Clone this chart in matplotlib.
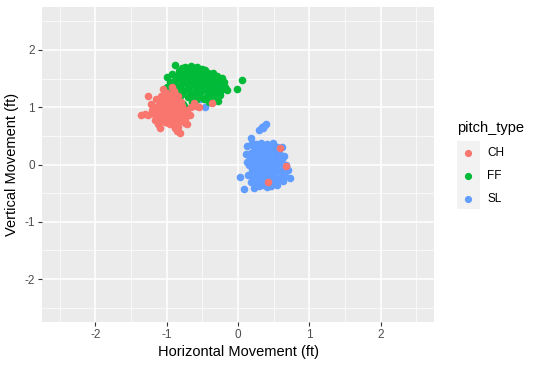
import matplotlib
matplotlib.use('Agg')
import matplotlib.pyplot as plt
from matplotlib.lines import Line2D
from matplotlib.patches import Rectangle

plt.rcParams['font.family'] = ['Liberation Sans', 'DejaVu Sans']
plt.rcParams['axes.unicode_minus'] = False

# ── data ─────────────────────────────────────────────────────────────────────
ff_pts = [
    (-0.88, 1.74), (-0.74, 1.71), (-0.62, 1.68), (-0.47, 1.65), (-0.35, 1.59), (-0.99, 1.52),
    (-0.93, 1.58), (-0.99, 1.36), (-0.18, 1.36), (-0.16, 1.30), (-0.23, 1.51), (-0.01, 1.32),
    (0.06, 1.47), (-0.74, 1.01), (-0.59, 1.13), (-0.40, 1.10), (-0.28, 1.11), (-0.25, 1.22),
    (-0.86, 1.19), (-0.35, 1.19), (-0.78, 1.69), (-0.70, 1.66), (-0.55, 1.62), (-0.50, 1.66),
    (-0.42, 1.60), (-0.30, 1.55), (-0.83, 1.63), (-0.66, 1.72), (-0.58, 1.70), (-0.85, 1.55),
    (-0.80, 1.48), (-0.75, 1.58), (-0.72, 1.42), (-0.68, 1.52), (-0.65, 1.38), (-0.62, 1.60),
    (-0.60, 1.45), (-0.57, 1.33), (-0.55, 1.55), (-0.52, 1.42), (-0.50, 1.30), (-0.48, 1.50),
    (-0.45, 1.38), (-0.42, 1.46), (-0.40, 1.28), (-0.38, 1.52), (-0.35, 1.40), (-0.32, 1.32),
    (-0.30, 1.45), (-0.28, 1.25), (-0.26, 1.42), (-0.22, 1.35), (-0.20, 1.44), (-0.90, 1.45),
    (-0.88, 1.38), (-0.82, 1.32), (-0.78, 1.40), (-0.76, 1.28), (-0.70, 1.34), (-0.66, 1.25),
    (-0.63, 1.48), (-0.58, 1.52), (-0.53, 1.24), (-0.47, 1.35), (-0.43, 1.20), (-0.37, 1.34),
    (-0.33, 1.25), (-0.62, 1.20), (-0.70, 1.18), (-0.80, 1.22), (-0.92, 1.28), (-0.95, 1.44),
    (-0.73, 1.50), (-0.67, 1.60), (-0.56, 1.40), (-0.49, 1.58), (-0.44, 1.30), (-0.38, 1.42),
    (-0.27, 1.50), (-0.24, 1.30), (-0.55, 1.18), (-0.48, 1.15), (-0.65, 1.10), (-0.83, 1.12),
    (-0.77, 1.05), (-0.50, 1.48), (-0.60, 1.35), (-0.70, 1.45), (-0.80, 1.58), (-0.40, 1.55),
    (-0.34, 1.48), (-0.46, 1.43), (-0.58, 1.28), (-0.86, 1.50), (-0.53, 1.60),
]

ch_pts = [
    (-1.26, 1.20), (-1.36, 0.87), (-1.26, 0.87), (-1.17, 0.78), (-1.10, 0.64), (-0.98, 0.72),
    (-0.88, 0.64), (-0.81, 0.55), (-0.86, 0.58), (-0.74, 0.72), (-0.71, 0.70), (-0.68, 0.87),
    (-0.66, 1.01), (-0.59, 1.03), (-0.36, 1.08), (-1.05, 1.32), (-0.93, 1.35), (-1.15, 1.15),
    (-1.20, 0.95), (-1.22, 1.05), (-1.12, 0.70), (-0.78, 0.80), (-0.72, 0.95), (-0.80, 1.10),
    (-0.84, 1.20), (-0.90, 1.28), (-1.00, 1.25), (-1.08, 1.20), (-0.62, 1.08), (-0.55, 1.00),
    (-1.15, 1.00), (-1.12, 0.90), (-1.10, 1.08), (-1.08, 0.82), (-1.05, 0.95), (-1.03, 1.12),
    (-1.00, 0.88), (-0.98, 1.02), (-0.97, 0.78), (-0.95, 1.15), (-0.93, 0.92), (-0.91, 1.05),
    (-0.90, 0.82), (-0.88, 0.98), (-0.86, 1.10), (-0.85, 0.88), (-0.83, 1.00), (-0.82, 0.76),
    (-0.80, 0.92), (-0.78, 1.02), (-1.02, 0.75), (-0.95, 0.70), (-0.92, 0.74), (-1.18, 0.88),
    (-1.06, 1.05), (-0.97, 1.20), (-0.88, 1.15), (-0.76, 0.88), (-1.14, 0.80), (-1.00, 0.95),
    (-0.94, 0.85), (-0.90, 0.95), (-1.04, 0.86), (-0.86, 0.70), (-1.30, 0.88), (-1.10, 0.95),
    (-1.16, 0.94), (-1.12, 1.02), (-1.07, 0.89), (-1.02, 1.00), (-0.99, 1.08), (-0.96, 0.96),
    (-0.93, 1.08), (-0.91, 0.88), (-0.87, 1.04), (-0.84, 0.94), (-0.81, 0.86), (-0.96, 0.82),
    (-1.03, 0.80), (-1.09, 0.76), (-0.89, 0.76), (-0.79, 0.96), (-0.94, 1.22), (-1.02, 1.18),
    (-0.75, 0.80), (-0.84, 0.66),
    (0.59, 0.28), (0.68, -0.02), (0.42, -0.31),
]

sl_pts = [
    (0.18, 0.46), (0.30, 0.61), (0.35, 0.64), (0.39, 0.70), (0.03, -0.22), (0.09, -0.43),
    (0.23, -0.41), (0.47, -0.38), (0.63, -0.29), (0.73, -0.24), (0.62, 0.30), (0.49, 0.37),
    (0.13, 0.32), (0.12, 0.05), (0.37, 0.67), (0.33, 0.65), (0.20, 0.38), (0.25, 0.35),
    (0.32, 0.38), (0.40, 0.36), (0.55, 0.30), (0.65, 0.15), (0.70, -0.10), (0.66, -0.20),
    (0.55, -0.35), (0.40, -0.40), (0.30, -0.38), (0.18, -0.30), (0.14, -0.18), (0.11, 0.18),
    (0.18, 0.20), (0.22, 0.10), (0.25, 0.25), (0.28, 0.00), (0.30, 0.15), (0.33, -0.10),
    (0.35, 0.28), (0.37, 0.05), (0.40, -0.20), (0.42, 0.18), (0.44, -0.05), (0.46, 0.25),
    (0.48, 0.08), (0.50, -0.15), (0.52, 0.12), (0.55, -0.25), (0.57, 0.02), (0.60, -0.12),
    (0.62, 0.10), (0.20, -0.10), (0.24, -0.22), (0.27, -0.30), (0.32, -0.25), (0.38, -0.30),
    (0.45, -0.28), (0.16, 0.00), (0.22, 0.30), (0.28, 0.20), (0.34, 0.10), (0.39, 0.22),
    (0.43, 0.30), (0.50, 0.20), (0.53, -0.05), (0.58, 0.20), (0.26, -0.12), (0.36, -0.15),
    (0.41, 0.00), (0.47, -0.10), (0.31, 0.05), (0.21, 0.05), (0.19, -0.20), (0.35, -0.35),
    (0.52, -0.30), (0.60, -0.20), (0.68, 0.00),
    (0.17, 0.12), (0.19, -0.05), (0.23, 0.18), (0.24, -0.04), (0.26, 0.08), (0.29, -0.18),
    (0.30, 0.28), (0.33, 0.20), (0.35, -0.02), (0.38, 0.12), (0.39, -0.10), (0.42, 0.08),
    (0.43, -0.18), (0.45, 0.15), (0.49, -0.22), (0.51, 0.02), (0.54, 0.18), (0.56, -0.10),
    (0.46, 0.33), (0.27, 0.32), (0.33, -0.32), (0.42, -0.35), (0.21, -0.28), (0.64, -0.05),
    (-0.43, 1.50), (-0.29, 1.37), (-0.47, 1.01), (-0.54, 1.14),
]

pitch_types = ['CH', 'FF', 'SL']
colors = {'CH': '#F8766D', 'FF': '#00BA38', 'SL': '#619CFF'}
ticks = [-2, -1, 0, 1, 2]
minor_ticks = [-2.5, -1.5, -0.5, 0.5, 1.5, 2.5]

# ── plot ─────────────────────────────────────────────────────────────────────
W, H = 538, 365
fig = plt.figure(figsize=(W / 100, H / 100), dpi=100)
ax = fig.add_axes([42 / W, 1 - 322 / H, (434 - 42) / W, (322 - 7) / H])
ax.set_facecolor('#EBEBEB')

for name, pts in [('SL', sl_pts), ('FF', ff_pts), ('CH', ch_pts)]:
    xs = [p[0] for p in pts]
    ys = [p[1] for p in pts]
    ax.scatter(xs, ys, s=30, color=colors[name], linewidths=0, zorder=3)

ax.set_xlim(-2.75, 2.75)
ax.set_ylim(-2.75, 2.75)
ax.set_xticks(ticks)
ax.set_yticks(ticks)
ax.set_xticks(minor_ticks, minor=True)
ax.set_yticks(minor_ticks, minor=True)
ax.grid(True, which='major', color='white', lw=1.1, zorder=0)
ax.grid(True, which='minor', color='white', lw=0.5, zorder=0)
ax.set_axisbelow(True)
for s in ax.spines.values():
    s.set_visible(False)
ax.tick_params(which='major', length=3, width=0.8, color='#333333',
               labelcolor='#4D4D4D', labelsize=8.5, pad=2)
ax.tick_params(which='minor', length=0)

ax.set_xlabel('Horizontal Movement (ft)', fontsize=10.5, color='black', labelpad=3)
ax.set_ylabel('Vertical Movement (ft)', fontsize=10.5, color='black', labelpad=4)

# legend, ggplot style
fig.text(457 / W, 1 - 128 / H, 'pitch_type', fontsize=10.5, ha='left', va='center')
fig.add_artist(Rectangle((457 / W, 1 - 209 / H), 23 / W, 68 / H,
                         transform=fig.transFigure, facecolor='#F2F2F2', edgecolor='none'))
for i, name in enumerate(pitch_types):
    yk = 1 - (153 + 23 * i) / H
    fig.add_artist(Line2D([468 / W], [yk], marker='o', markersize=5.2, color=colors[name],
                          markeredgewidth=0, transform=fig.transFigure))
    fig.text(487 / W, yk, name, fontsize=8.5, ha='left', va='center')

fig.savefig('out.png', dpi=100)
